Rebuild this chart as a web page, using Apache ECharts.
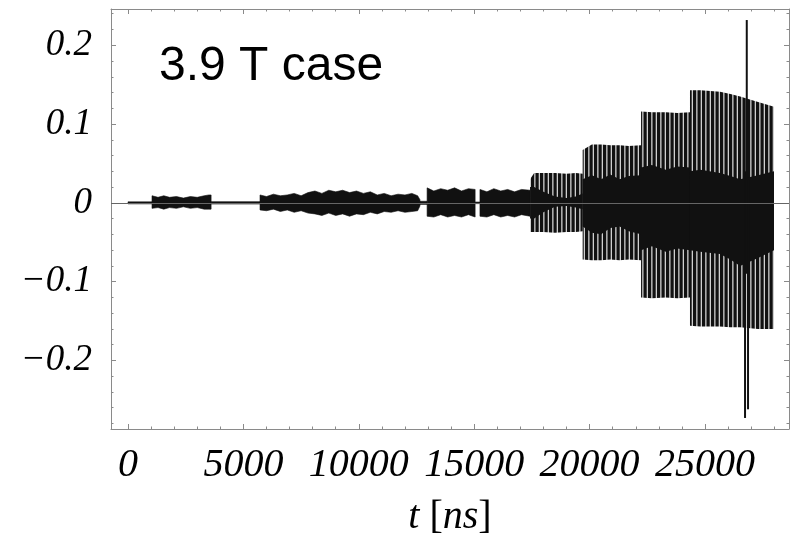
<!DOCTYPE html>
<html>
<head>
<meta charset="utf-8">
<script src="https://cdn.jsdelivr.net/npm/echarts@6/dist/echarts.min.js"></script>
<style>
  html, body { margin: 0; padding: 0; background: #fff; }
  #chart { width: 796px; height: 537px; }
</style>
</head>
<body>
<div id="chart"></div>
<script>
// Axis ticks and their labels
const xTickValues = [0, 5000, 10000, 15000, 20000, 25000];
const xTickLabels = ['0', '5000', '10000', '15000', '20000', '25000'];
const yTickValues = [-0.2, -0.1, 0, 0.1, 0.2];
const yTickLabels = ['\u22120.2', '\u22120.1', '0', '0.1', '0.2'];

// Signal envelope: time [ns], upper / lower bound of the oscillation,
// bounds of the dense central core, and the burst each point belongs to.
const envTime  = [0, 1040,
                  1040, 1300, 1550, 1800, 2100, 2400, 2700, 3000, 3300, 3500, 3600,
                  3600, 5720,
                  5720, 6000, 6300, 6600, 6900, 7200, 7500, 7800, 8100, 8400, 8700, 9000, 9300, 9600,
                  9900, 10200, 10500, 10800, 11100, 11400, 11700, 12000, 12300, 12550, 12650,
                  12650, 12960,
                  12960, 13250, 13550, 13850, 14150, 14450, 14750, 15040,
                  15040, 15250,
                  15250, 15550, 15850, 16150, 16450, 16750, 17050, 17420,
                  17420, 17600, 18000, 18500, 19000, 19400, 19700,
                  19700, 20100, 20500, 20900, 21300, 21700, 22230,
                  22230, 22700, 23300, 23800, 24350,
                  24350, 24800, 25650, 26100, 26520, 27300, 27990];
const envUpper = [0.0013, 0.0013,
                  0.009, 0.007, 0.009, 0.007, 0.008, 0.006, 0.008, 0.007, 0.009, 0.010, 0.010,
                  0.0015, 0.0015,
                  0.010, 0.008, 0.011, 0.009, 0.010, 0.012, 0.009, 0.013, 0.015, 0.012, 0.016, 0.014, 0.016, 0.013,
                  0.015, 0.012, 0.014, 0.010, 0.012, 0.009, 0.011, 0.010, 0.012, 0.009, 0.004,
                  0.002, 0.002,
                  0.019, 0.015, 0.018, 0.016, 0.019, 0.015, 0.018, 0.017,
                  0.001, 0.001,
                  0.017, 0.014, 0.018, 0.015, 0.017, 0.014, 0.017, 0.016,
                  0.030, 0.038, 0.038, 0.038, 0.037, 0.038, 0.037,
                  0.067, 0.074, 0.074, 0.073, 0.073, 0.072, 0.073,
                  0.116, 0.115, 0.115, 0.114, 0.115,
                  0.143, 0.143, 0.141, 0.138, 0.135, 0.128, 0.122];
const envLower = [-0.0013, -0.0013,
                  -0.007, -0.006, -0.008, -0.006, -0.007, -0.005, -0.007, -0.006, -0.008, -0.008, -0.008,
                  -0.0015, -0.0015,
                  -0.009, -0.010, -0.008, -0.011, -0.009, -0.012, -0.010, -0.013, -0.014, -0.016, -0.013, -0.016, -0.014, -0.017,
                  -0.014, -0.015, -0.012, -0.014, -0.011, -0.012, -0.010, -0.012, -0.011, -0.010, -0.004,
                  -0.002, -0.002,
                  -0.017, -0.018, -0.015, -0.018, -0.016, -0.018, -0.015, -0.018,
                  -0.001, -0.001,
                  -0.017, -0.018, -0.015, -0.018, -0.016, -0.018, -0.015, -0.017,
                  -0.037, -0.037, -0.037, -0.038, -0.037, -0.037, -0.036,
                  -0.072, -0.073, -0.073, -0.072, -0.073, -0.072, -0.073,
                  -0.120, -0.121, -0.120, -0.121, -0.120,
                  -0.156, -0.157, -0.157, -0.158, -0.158, -0.160, -0.160];
const coreUpper = [null, null,
                   null, null, null, null, null, null, null, null, null, null, null,
                   null, null,
                   null, null, null, null, null, null, null, null, null, null, null, null, null, null,
                   null, null, null, null, null, null, null, null, null, null, null,
                   null, null,
                   null, null, null, null, null, null, null, null,
                   null, null,
                   null, null, null, null, null, null, null, null,
                   0.020, 0.020, 0.014, 0.008, 0.006, 0.008, 0.012,
                   0.030, 0.035, 0.030, 0.036, 0.030, 0.034, 0.035,
                   0.045, 0.048, 0.042, 0.046, 0.045,
                   0.040, 0.042, 0.038, 0.034, 0.030, 0.035, 0.040];
const coreLower = [null, null,
                   null, null, null, null, null, null, null, null, null, null, null,
                   null, null,
                   null, null, null, null, null, null, null, null, null, null, null, null, null, null,
                   null, null, null, null, null, null, null, null, null, null, null,
                   null, null,
                   null, null, null, null, null, null, null, null,
                   null, null,
                   null, null, null, null, null, null, null, null,
                   -0.020, -0.020, -0.012, -0.005, -0.004, -0.006, -0.008,
                   -0.030, -0.038, -0.040, -0.032, -0.030, -0.036, -0.040,
                   -0.060, -0.055, -0.062, -0.058, -0.060,
                   -0.060, -0.062, -0.065, -0.072, -0.080, -0.070, -0.060];
const envBurst = [0, 0,
                  1, 1, 1, 1, 1, 1, 1, 1, 1, 1, 1,
                  2, 2,
                  3, 3, 3, 3, 3, 3, 3, 3, 3, 3, 3, 3, 3, 3,
                  3, 3, 3, 3, 3, 3, 3, 3, 3, 3, 3,
                  4, 4,
                  5, 5, 5, 5, 5, 5, 5, 5,
                  6, 6,
                  7, 7, 7, 7, 7, 7, 7, 7,
                  8, 8, 8, 8, 8, 8, 8,
                  9, 9, 9, 9, 9, 9, 9,
                  10, 10, 10, 10, 10,
                  11, 11, 11, 11, 11, 11, 11];

// Isolated large excursion near the end of the run
const spikeTime  = [26735, 26810, 26865];
const spikeUpper = [0.040, 0.232, 0.030];
const spikeLower = [-0.273, -0.090, -0.262];

// ---- styling ----
const INK = '#111';
const FRAME = '#8a8a8a';
const stripedBursts = [8, 9, 10, 11];

// vertical stripe texture for resolved oscillation cycles
const stripe = document.createElement('canvas');
stripe.width = 9; stripe.height = 4;
(function () {
  const c = stripe.getContext('2d');
  c.fillStyle = INK; c.fillRect(0, 0, 9, 4);
  c.fillStyle = '#cfcfcf';
  c.fillRect(3.2, 0, 1.3, 4);
  c.fillRect(7.7, 0, 1.3, 4);
})();
const stripeFill = { image: stripe, repeat: 'repeat' };

function renderBurst(params, api) {
  const i = params.dataIndex;
  const b = envBurst[i];
  if (i > 0 && envBurst[i - 1] === b) return null;
  let j = i;
  while (j + 1 < envTime.length && envBurst[j + 1] === b) j++;
  const top = [], bot = [], ctop = [], cbot = [];
  for (let k = i; k <= j; k++) {
    top.push(api.coord([envTime[k], envUpper[k]]));
    bot.push(api.coord([envTime[k], envLower[k]]));
    if (coreUpper[k] != null) {
      ctop.push(api.coord([envTime[k], coreUpper[k]]));
      cbot.push(api.coord([envTime[k], coreLower[k]]));
    }
  }
  const striped = stripedBursts.indexOf(b) >= 0;
  const children = [{
    type: 'polygon',
    shape: { points: top.concat(bot.reverse()) },
    style: striped ? { fill: stripeFill } : { fill: INK, stroke: INK, lineWidth: 0.6 }
  }];
  if (ctop.length) {
    children.push({
      type: 'polygon',
      shape: { points: ctop.concat(cbot.reverse()) },
      style: { fill: INK }
    });
  }
  return { type: 'group', children: children };
}

function renderSpike(params, api) {
  const i = params.dataIndex;
  const a = api.coord([spikeTime[i], spikeUpper[i]]);
  const c = api.coord([spikeTime[i], spikeLower[i]]);
  return {
    type: 'line',
    shape: { x1: a[0], y1: a[1], x2: c[0], y2: c[1] },
    style: { stroke: INK, lineWidth: 2 }
  };
}

const X_MIN = -737, X_MAX = 28640;
const Y_MIN = -0.287, Y_MAX = 0.246;

const xMinor = [], yMinor = [];
for (let v = 1000; v <= 28000; v += 1000) if (v % 5000 !== 0) xMinor.push(v);
for (let k = -14; k <= 12; k++) if (k % 5 !== 0) yMinor.push(k / 50);

const serifItalic = { fontFamily: 'Liberation Serif', fontStyle: 'italic', color: '#000' };

const xBase = { type: 'value', min: X_MIN, max: X_MAX, splitLine: { show: false } };
const yBase = { type: 'value', min: Y_MIN, max: Y_MAX, splitLine: { show: false } };
const lineOn = { show: true, onZero: false, lineStyle: { color: FRAME, width: 1 } };
const lineOff = { show: false, onZero: false };
const major = vals => ({ show: true, inside: true, length: 5, customValues: vals, lineStyle: { color: FRAME } });
const minor = vals => ({ show: true, inside: true, length: 2.5, customValues: vals, lineStyle: { color: FRAME } });

const option = {
  animation: false,
  backgroundColor: '#fff',
  grid: { left: 111, right: 7, top: 9, bottom: 108, containLabel: false, outerBoundsMode: 'none' },
  xAxis: [
    Object.assign({}, xBase, {
      position: 'bottom', axisLine: lineOn, axisTick: major(xTickValues),
      axisLabel: {
        show: true, margin: 16, customValues: xTickValues, fontSize: 40,
        formatter: v => xTickLabels[xTickValues.indexOf(v)],
        ...serifItalic
      }
    }),
    Object.assign({}, xBase, { position: 'bottom', axisLine: lineOff, axisTick: minor(xMinor), axisLabel: { show: false } }),
    Object.assign({}, xBase, { position: 'top', axisLine: lineOn, axisTick: major(xTickValues), axisLabel: { show: false } }),
    Object.assign({}, xBase, { position: 'top', axisLine: lineOff, axisTick: minor(xMinor), axisLabel: { show: false } })
  ],
  yAxis: [
    Object.assign({}, yBase, {
      position: 'left', axisLine: lineOn, axisTick: major(yTickValues),
      axisLabel: {
        show: true, margin: 19, customValues: yTickValues, fontSize: 37,
        formatter: v => yTickLabels[yTickValues.findIndex(t => Math.abs(t - v) < 1e-9)],
        ...serifItalic
      }
    }),
    Object.assign({}, yBase, { position: 'left', axisLine: lineOff, axisTick: minor(yMinor), axisLabel: { show: false } }),
    Object.assign({}, yBase, { position: 'right', axisLine: lineOn, axisTick: major(yTickValues), axisLabel: { show: false } }),
    Object.assign({}, yBase, { position: 'right', axisLine: lineOff, axisTick: minor(yMinor), axisLabel: { show: false } })
  ],
  series: [
    {
      name: 'axis',
      type: 'line',
      data: [],
      z: 1,
      markLine: {
        silent: true,
        symbol: 'none',
        label: { show: false },
        lineStyle: { color: '#666', width: 1, type: 'solid' },
        data: [{ yAxis: 0 }]
      }
    },
    {
      name: 'envelope',
      type: 'custom',
      z: 3,
      clip: true,
      renderItem: renderBurst,
      encode: { x: 0, y: [1, 2] },
      data: envTime.map((t, k) => [t, envUpper[k], envLower[k]])
    },
    {
      name: 'spike',
      type: 'custom',
      z: 4,
      clip: true,
      renderItem: renderSpike,
      encode: { x: 0, y: [1, 2] },
      data: spikeTime.map((t, k) => [t, spikeUpper[k], spikeLower[k]])
    }
  ],
  graphic: [
    {
      type: 'text', x: 159, y: 43, z: 10,
      style: { text: '3.9 T case', fontFamily: 'Liberation Sans', fontSize: 48, fill: '#000', verticalAlign: 'top' }
    },
    {
      type: 'text', x: 450, y: 497, z: 10,
      style: {
        text: '{i|t} [{i|ns}]',
        fontFamily: 'Liberation Serif', fontSize: 40, fill: '#000',
        align: 'center', verticalAlign: 'top',
        rich: { i: { fontFamily: 'Liberation Serif', fontSize: 40, fontStyle: 'italic', fill: '#000' } }
      }
    }
  ]
};

const chart = echarts.init(document.getElementById('chart'), null, { renderer: 'canvas' });
chart.setOption(option);
</script>
</body>
</html>
